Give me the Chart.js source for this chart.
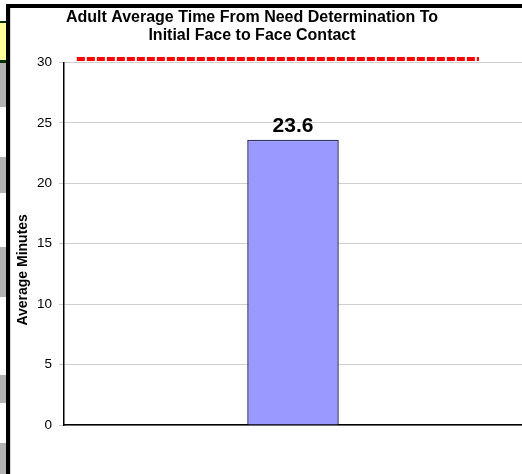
<!DOCTYPE html>
<html>
<head>
<meta charset="utf-8">
<script src="https://cdn.jsdelivr.net/npm/chart.js@4.4.0/dist/chart.umd.min.js"></script>
<style>
  html, body { margin: 0; padding: 0; background: #fff; width: 522px; height: 474px; overflow: hidden; position: relative; }
  #wrap { position: absolute; left: -18px; top: 0; width: 540px; height: 474px; }
  .deco { position: absolute; z-index: 5; }
</style>
</head>
<body>
<div class="deco" style="left:0;top:21px;width:6px;height:2px;background:#003300"></div>
<div class="deco" style="left:0;top:23px;width:6px;height:37px;background:#ffff99"></div>
<div class="deco" style="left:0;top:60px;width:6px;height:3px;background:#003300"></div>
<div class="deco" style="left:0;top:63px;width:6px;height:44px;background:#b2b2b2"></div>
<div class="deco" style="left:0;top:157px;width:6px;height:36px;background:#b2b2b2"></div>
<div class="deco" style="left:0;top:247px;width:6px;height:50px;background:#b2b2b2"></div>
<div class="deco" style="left:0;top:375px;width:6px;height:28px;background:#b2b2b2"></div>
<div class="deco" style="left:0;top:443px;width:6px;height:31px;background:#b2b2b2"></div>
<div class="deco" style="left:6px;top:4px;width:4px;height:470px;background:#000"></div>
<div class="deco" style="left:6px;top:4px;width:516px;height:4px;background:#000"></div>
<div class="deco" style="left:10px;top:8px;width:1px;height:466px;background:#d8d8d8"></div>
<div id="wrap"><canvas id="c"></canvas></div>
<script>
const categories = ['Adult'];
const avgMinutes = [23.6];
const targetValue = 30.3;
const targetSpan = [0.028, 0.906];
const yTicks = [0, 5, 10, 15, 20, 25, 30];
const titleLines = ['Adult Average Time From Need Determination To', 'Initial Face to Face Contact'];
const yTitle = 'Average Minutes';

const FONT = '"Liberation Sans", Arial, sans-serif';

const labelPlugin = {
  id: 'barLabel',
  afterDatasetsDraw(chart) {
    const meta = chart.getDatasetMeta(0);
    const ctx = chart.ctx;
    ctx.save();
    ctx.font = 'bold 21px ' + FONT;
    ctx.fillStyle = '#000';
    ctx.textAlign = 'center';
    ctx.textBaseline = 'alphabetic';
    meta.data.forEach((bar, i) => {
      ctx.fillText(String(avgMinutes[i]), bar.x, bar.y - 8);
    });
    const ys = chart.scales.y;
    const ca = chart.chartArea;
    ctx.font = 'bold 14px ' + FONT;
    ctx.textBaseline = 'middle';
    ctx.translate(ys.left + 41, ca.top + (ca.bottom - ca.top) * 0.572);
    ctx.rotate(-Math.PI / 2);
    ctx.fillText(yTitle, 0, 0);
    ctx.restore();
  }
};

new Chart(document.getElementById('c'), {
  type: 'bar',
  data: {
    labels: categories,
    datasets: [
      {
        type: 'bar',
        data: avgMinutes,
        backgroundColor: '#9999ff',
        borderColor: '#333366',
        borderWidth: 1.5,
        barPercentage: 0.2,
        categoryPercentage: 1,
        grouped: false,
        xAxisID: 'x',
        order: 2
      },
      {
        type: 'line',
        data: targetSpan.map(v => ({ x: v, y: targetValue })),
        xAxisID: 'x2',
        borderColor: '#ff0000',
        borderWidth: 4,
        borderDash: [8, 2],
        pointRadius: 0,
        clip: false,
        order: 1
      }
    ]
  },
  options: {
    responsive: true,
    maintainAspectRatio: false,
    animation: false,
    layout: { padding: { left: 0, right: 0, top: 0, bottom: 49 } },
    plugins: {
      legend: { display: false },
      tooltip: { enabled: false },
      title: {
        display: true,
        text: titleLines,
        color: '#000',
        font: { family: FONT, size: 16, weight: 'bold', lineHeight: 1.125 },
        padding: { top: 9, bottom: 17.5 }
      }
    },
    scales: {
      x: {
        type: 'category',
        offset: true,
        grid: { display: false, drawTicks: false, offset: true },
        ticks: { display: false },
        border: { display: true, color: '#000', width: 1.5 }
      },
      x2: {
        type: 'linear',
        display: false,
        offset: false,
        min: 0,
        max: 1
      },
      y: {
        min: 0,
        max: 30,
        afterBuildTicks(scale) { scale.ticks = yTicks.map(v => ({ value: v })); },
        afterFit(scale) { scale.width = 82; },
        ticks: {
          color: '#000',
          font: { family: FONT, size: 13.5 },
          padding: 7
        },
        grid: { color: '#cfcfcf', tickLength: 5, lineWidth: 1 },
        border: { display: true, color: '#000', width: 1.5 },
        title: { display: false }
      }
    }
  },
  plugins: [labelPlugin]
});
</script>
</body>
</html>
